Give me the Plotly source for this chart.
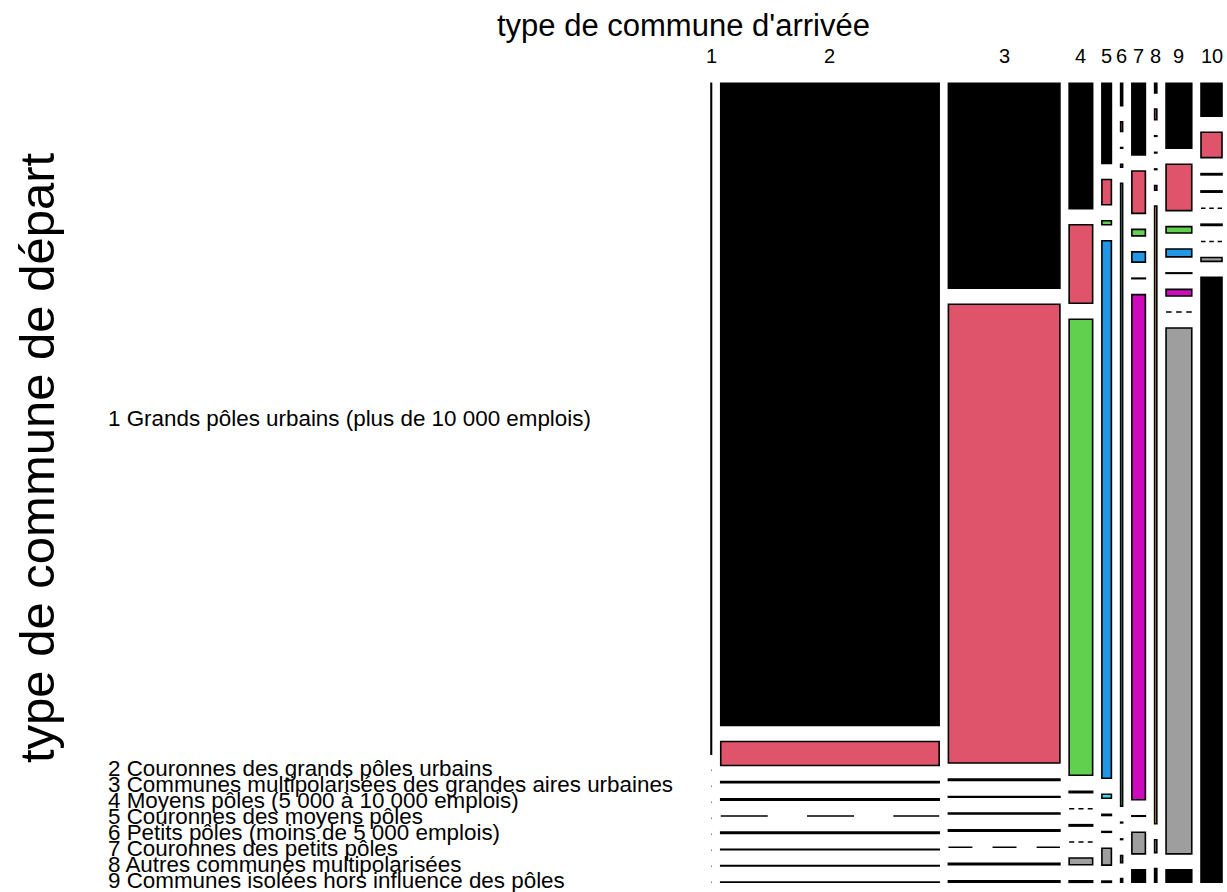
import plotly.graph_objects as go

# Categories
arrivee = ["1", "2", "3", "4", "5", "6", "7", "8", "9", "10"]
depart = [
    "1 Grands pôles urbains (plus de 10 000 emplois)",
    "2 Couronnes des grands pôles urbains",
    "3 Communes multipolarisées des grandes aires urbaines",
    "4 Moyens pôles (5 000 à 10 000 emplois)",
    "5 Couronnes des moyens pôles",
    "6 Petits pôles (moins de 5 000 emplois)",
    "7 Couronnes des petits pôles",
    "8 Autres communes multipolarisées",
    "9 Communes isolées hors influence des pôles",
]

# Flows by departure type (one value per arrival type 1..10)
dep_grands_poles = [500, 209045, 34055, 4392, 1135, 67, 1444, 32, 2486, 1032]
dep_couronnes_gp = [0, 7815, 76231, 2750, 357, 29, 852, 35, 1779, 793]
dep_multipol_ga = [0, 398, 248, 15973, 57, 2, 130, 2, 241, 40]
dep_moyens_poles = [0, 418, 99, 48, 7611, 9, 207, 2, 304, 40]
dep_couronnes_mp = [0, 0, 134, 0, 57, 1857, 10, 2, 19, 0]
dep_petits_poles = [0, 418, 228, 48, 17, 2, 10162, 15, 251, 40]
dep_couronnes_pp = [0, 100, 0, 0, 11, 2, 10, 2025, 0, 0]
dep_autres_multi = [0, 100, 248, 236, 238, 21, 435, 42, 20144, 124]
dep_isolees = [0, 106, 257, 53, 17, 11, 250, 45, 476, 18931]

table = [dep_grands_poles, dep_couronnes_gp, dep_multipol_ga, dep_moyens_poles,
         dep_couronnes_mp, dep_petits_poles, dep_couronnes_pp, dep_autres_multi,
         dep_isolees]

# R default palette, recycled over the departure levels
palette = ["#000000", "#DF536B", "#61D04F", "#2297E6", "#28E2E5",
           "#CD0BBC", "#F5C710", "#9E9E9E"]
row_colors = [palette[i % len(palette)] for i in range(len(depart))]

W, H = 1227, 892
# mosaic frame in pixels
X0_PX, X1_PX = 711.0, 1222.0
Y0_PX, Y1_PX = 83.3, 882.3
SX = X1_PX - X0_PX
SY = Y1_PX - Y0_PX
GAP_X = 9.24 / SX
GAP_Y = 16.0 / SY
BORDER = 1.6

n_rows = len(depart)
n_cols = len(arrivee)
col_tot = [sum(table[i][j] for i in range(n_rows)) for j in range(n_cols)]
grand = sum(col_tot)
avail_x = 1 - GAP_X * (n_cols - 1)
avail_y = 1 - GAP_Y * (n_rows - 1)

shapes = []
col_centers = []
first_col_centers = []
x = 0.0
for j in range(n_cols):
    w = avail_x * col_tot[j] / grand
    xl, xr = x, x + w
    col_centers.append((xl + xr) / 2)
    y = 1.0
    for i in range(n_rows):
        h = avail_y * table[i][j] / col_tot[j]
        yt, yb = y, y - h
        if j == 0:
            first_col_centers.append((yt + yb) / 2)
        if table[i][j] > 0:
            shapes.append(dict(type="rect", xref="x", yref="y",
                               x0=xl, x1=xr, y0=yb, y1=yt,
                               fillcolor=row_colors[i],
                               line=dict(color="black", width=BORDER)))
        else:
            # empty cell: dashed segment across the column
            wpx = w * SX
            seg = dict(color="black", width=1.5)
            if wpx > 8:
                seg["dash"] = f"{0.215 * wpx:.1f}px,{0.18 * wpx:.1f}px"
            shapes.append(dict(type="line", xref="x", yref="y",
                               x0=xl, x1=xr, y0=yt, y1=yt, line=seg))
        y = yb - GAP_Y
    x = xr + GAP_X

font = "Liberation Sans, Arial, sans-serif"
annotations = []
for j, lab in enumerate(arrivee):
    annotations.append(dict(x=col_centers[j], xref="x", y=1 - 56 / H, yref="paper",
                            text=lab, showarrow=False, xanchor="center",
                            yanchor="middle", font=dict(family=font, size=20, color="black")))
for i, lab in enumerate(depart):
    annotations.append(dict(x=106 / W, xref="paper", y=first_col_centers[i], yref="y",
                            text=lab, showarrow=False, xanchor="left",
                            yanchor="middle", yshift=0 if i == 0 else 2,
                            font=dict(family=font, size=22.4, color="black")))
annotations.append(dict(x=683.5 / W, xref="paper", y=1 - 25 / H, yref="paper",
                        text="type de commune d'arrivée", showarrow=False,
                        xanchor="center", yanchor="middle",
                        font=dict(family=font, size=31, color="black")))
annotations.append(dict(x=37 / W, xref="paper", y=1 - 458 / H, yref="paper",
                        text="type de commune de départ", showarrow=False,
                        textangle=-90, xanchor="center", yanchor="middle",
                        font=dict(family=font, size=49, color="black")))

ax_a = -X0_PX / SX
ax_b = ax_a + W / SX
ay_b = 1 + Y0_PX / SY
ay_a = ay_b - H / SY

fig = go.Figure()
fig.update_layout(
    width=W, height=H,
    margin=dict(l=0, r=0, t=0, b=0),
    paper_bgcolor="white", plot_bgcolor="white",
    xaxis=dict(range=[ax_a, ax_b], visible=False, fixedrange=True),
    yaxis=dict(range=[ay_a, ay_b], visible=False, fixedrange=True),
    shapes=shapes, annotations=annotations, showlegend=False,
)
fig.write_html("out.html")
